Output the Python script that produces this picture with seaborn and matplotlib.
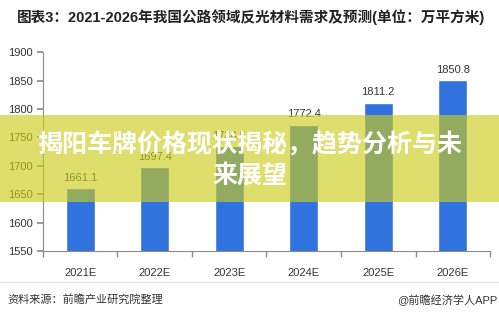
import matplotlib
matplotlib.use("Agg")
import matplotlib.pyplot as plt
import seaborn as sns
import pandas as pd
from matplotlib.patches import Rectangle
from matplotlib.lines import Line2D

categories = ["2021E", "2022E", "2023E", "2024E", "2025E", "2026E"]
values = [1661.1, 1697.4, 1734.5, 1772.4, 1811.2, 1850.8]
yticks = [1550, 1600, 1650, 1700, 1750, 1800, 1850, 1900]

title = "图表3：2021-2026年我国公路领域反光材料需求及预测(单位：万平方米)"
source = "资料来源：前瞻产业研究院整理"
brand = "@前瞻经济学人APP"
banner = "揭阳车牌价格现状揭秘，趋势分析与未\n来展望"

sns.set_theme(style="white")
plt.rcParams['font.family'] = ['Liberation Sans', 'Noto Sans CJK SC', 'DejaVu Sans']

df = pd.DataFrame({"year": categories, "value": values})

fig = plt.figure(figsize=(4.99, 3.18), dpi=100)
ax = fig.add_axes([0.086, 0.211, 0.896, 0.625])
sns.barplot(data=df, x="year", y="value", color="#3173DE", saturation=1,
            width=0.39, ax=ax)
ax.set_ylim(1550, 1900)
ax.set_xlim(-0.5, len(categories) - 0.5)
ax.set_yticks(yticks)
ax.set_xlabel("")
ax.set_ylabel("")
for s in ["top", "right"]:
    ax.spines[s].set_visible(False)
for s in ["left", "bottom"]:
    ax.spines[s].set_color("#8a8a8a")
    ax.spines[s].set_linewidth(0.8)
ax.tick_params(axis="y", left=True, length=4, color="#8a8a8a", labelsize=8,
               labelcolor="#333333", pad=3)
ax.tick_params(axis="x", which="major", bottom=False, labelsize=8,
               labelcolor="#333333", pad=6)
ax.set_xticks([i - 0.5 for i in range(len(categories) + 1)], minor=True)
ax.tick_params(axis="x", which="minor", bottom=True, length=4, color="#8a8a8a")

for i, v in enumerate(values):
    ax.text(i, v + 9, f"{v:.1f}", ha="center", va="bottom", fontsize=8,
            color="#333333")

fig.text(0.034, 0.945, title, fontsize=10.5, fontweight="bold", color="#222222",
         ha="left", va="center")
fig.add_artist(Line2D([0, 1], [0.113, 0.113], color="#e6e6e6", lw=0.8,
                      transform=fig.transFigure))
fig.text(0.014, 0.057, source, fontsize=8, color="#333333", ha="left", va="center")
fig.text(0.996, 0.057, brand, fontsize=8, color="#333333", ha="right", va="center")

fig.patches.append(Rectangle((0, 1 - 202 / 318), 1, 87 / 318,
                             transform=fig.transFigure, facecolor=(0.80, 0.80, 0.10),
                             alpha=0.64, edgecolor="none", zorder=5))
fig.text(0.5, 1 - 160 / 318, banner, fontsize=18, fontweight="bold", color="white",
         ha="center", va="center", linespacing=1.3, zorder=6)

fig.savefig("out.png", dpi=100)
